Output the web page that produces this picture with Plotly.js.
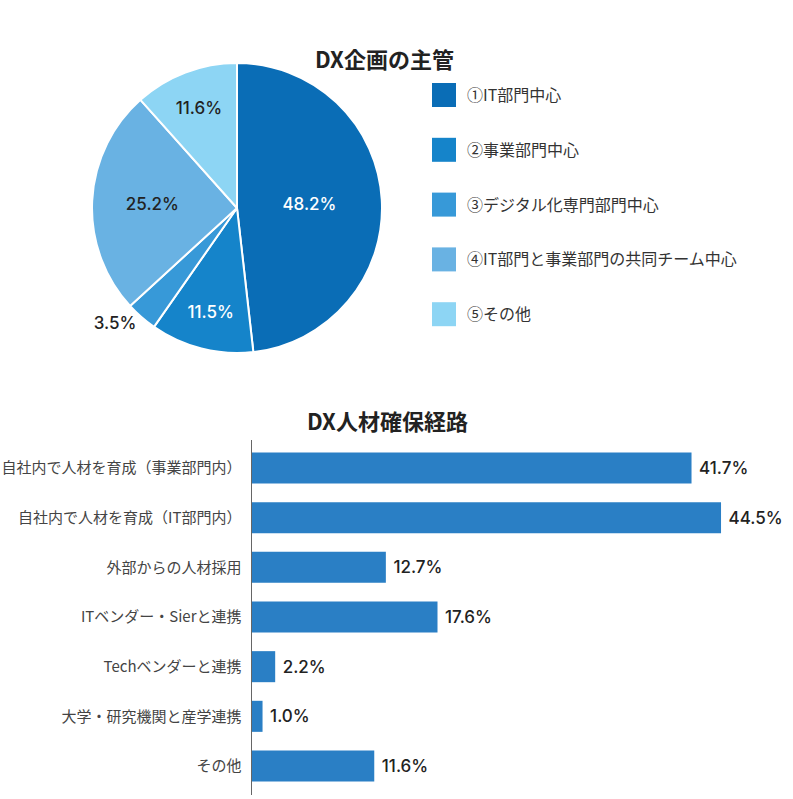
<!DOCTYPE html>
<html>
<head>
<meta charset="utf-8">
<script src="https://cdn.plot.ly/plotly-3.0.1.min.js"></script>
<style>
	html, body { margin: 0; padding: 0; background: #fff; }
	#chart { width: 793px; height: 799px; }
</style>
</head>
<body>
<div id="chart"></div>
<script>
// DX企画の主管 (pie)
const pieLabels = [
	"①IT部門中心",
	"②事業部門中心",
	"③デジタル化専門部門中心",
	"④IT部門と事業部門の共同チーム中心",
	"⑤その他",
];
const pieValues = [48.2, 11.5, 3.5, 25.2, 11.6];

// DX人材確保経路 (bar)
const routeLabels = [
	"自社内で人材を育成（事業部門内）",
	"自社内で人材を育成（IT部門内）",
	"外部からの人材採用",
	"ITベンダー・Sierと連携",
	"Techベンダーと連携",
	"大学・研究機関と産学連携",
	"その他",
];
const routeValues = [41.7, 44.5, 12.7, 17.6, 2.2, 1.0, 11.6];

const FONT = "'Noto Sans CJK JP', 'Noto Sans', sans-serif";
const NUM_FONT = "Inter, 'Noto Sans', sans-serif";
const pieColors = ["#0a6db6", "#1584ca", "#3799d8", "#69b2e3", "#8dd5f4"];
const barColor = "#2a7fc5";

const W = 793;
const H = 799;
// pixel -> paper helpers for layout placement
const px = (x) => x / W;
const py = (y) => 1 - y / H;

const traces = [
	{
		type: "pie",
		labels: pieLabels,
		values: pieValues,
		sort: false,
		direction: "clockwise",
		rotation: 0,
		domain: { x: [px(92), px(382)], y: [py(353), py(63)] },
		marker: { colors: pieColors, line: { color: "#fff", width: 2 } },
		texttemplate: "%{value:.1f}%",
		textposition: ["inside", "inside", "outside", "inside", "inside"],
		insidetextorientation: "horizontal",
		insidetextfont: {
			family: NUM_FONT,
			size: 17,
			weight: 500,
			color: ["#fff", "#fff", "#222", "#222", "#222"],
		},
		outsidetextfont: { family: NUM_FONT, size: 17, weight: 500, color: "#222" },
		showlegend: false,
		hoverinfo: "label+percent",
	},
	{
		type: "bar",
		orientation: "h",
		x: routeValues,
		y: routeLabels,
		marker: { color: barColor },
		texttemplate: " %{x:.1f}%",
		textposition: "outside",
		textfont: { family: NUM_FONT, size: 17, color: "#222", weight: 500 },
		cliponaxis: false,
		showlegend: false,
		xaxis: "x",
		yaxis: "y",
	},
];

// manual legend for the pie (large swatches)
const shapes = [];
const annotations = [
	{
		text: "<b>DX企画の主管</b>",
		x: px(384), y: py(40), xref: "paper", yref: "paper",
		showarrow: false, font: { family: FONT, size: 22, color: "#222" },
	},
	{
		text: "<b>DX人材確保経路</b>",
		x: px(387), y: py(420), xref: "paper", yref: "paper",
		showarrow: false, font: { family: FONT, size: 22, color: "#222" },
	},
];
pieLabels.forEach((lab, i) => {
	const cy = 95 + i * 54.8;
	shapes.push({
		type: "rect", xref: "paper", yref: "paper",
		x0: px(432), x1: px(456), y0: py(cy + 12), y1: py(cy - 12),
		fillcolor: pieColors[i], line: { width: 0 },
	});
	annotations.push({
		text: lab, x: px(465), y: py(cy - 1), xref: "paper", yref: "paper",
		xanchor: "left", yanchor: "middle", showarrow: false,
		font: { family: FONT, size: 16, color: "#333" },
	});
});

const layout = {
	width: W,
	height: H,
	margin: { t: 0, b: 0, l: 0, r: 0 },
	paper_bgcolor: "#fff",
	plot_bgcolor: "#fff",
	font: { family: FONT, color: "#333" },
	bargap: 0.375,
	xaxis: {
		domain: [px(252), 1],
		range: [0, (793 - 252) / 10.54],
		visible: false,
		fixedrange: true,
	},
	yaxis: {
		domain: [py(795), py(440)],
		range: [6.584, -0.564],
		showline: true,
		linecolor: "#666",
		linewidth: 1.5,
		showgrid: false,
		zeroline: false,
		ticks: "outside",
		ticklen: 6,
		tickcolor: "rgba(0,0,0,0)",
		tickfont: { family: FONT, size: 15, color: "#444" },
		fixedrange: true,
	},
	shapes,
	annotations,
};

Plotly.newPlot("chart", traces, layout, { displayModeBar: false, staticPlot: true });
</script>
</body>
</html>
